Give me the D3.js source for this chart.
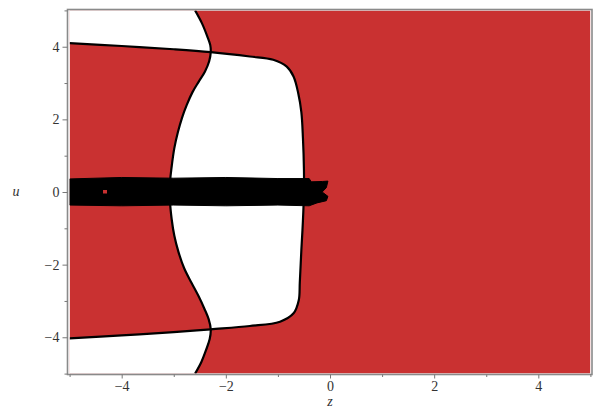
<!DOCTYPE html>
<html>
<head>
<meta charset="utf-8">
<script src="https://cdn.jsdelivr.net/npm/d3@7"></script>
<style>
  html, body { margin: 0; padding: 0; background: #fff; }
  svg { display: block; }
  .tick text { font-family: "Liberation Serif", "DejaVu Serif", serif; font-size: 14px; fill: #333; }
</style>
</head>
<body>
<svg id="chart" width="601" height="410"></svg>
<script>
// Boundary curve that winds top to bottom (z, u)
const waveZ = [-2.59, -2.46, -2.36, -2.30, -2.29, -2.32, -2.40, -2.52, -2.64, -2.75, -2.84, -2.92, -2.99, -3.04, -3.07, -3.07, -3.04, -2.99, -2.91, -2.80, -2.66, -2.52, -2.41, -2.33, -2.29, -2.31, -2.38, -2.47, -2.59];
const waveU = [5.00, 4.65, 4.30, 4.05, 3.85, 3.60, 3.32, 3.04, 2.75, 2.40, 2.05, 1.65, 1.20, 0.70, 0.30, -0.30, -0.75, -1.20, -1.65, -2.10, -2.50, -2.88, -3.22, -3.50, -3.78, -4.05, -4.35, -4.68, -5.00];

// C-shaped boundary curve, from the left edge round to the left edge (z, u)
const loopZ = [-5.00, -4.00, -3.00, -2.29, -1.54, -1.09, -0.83, -0.70, -0.61, -0.55, -0.52, -0.50, -0.50, -0.52, -0.55, -0.58, -0.60, -0.70, -0.96, -1.54, -2.29, -3.00, -4.00, -5.00];
const loopU = [4.10, 4.02, 3.93, 3.85, 3.73, 3.64, 3.45, 3.18, 2.72, 2.20, 1.50, 0.60, 0.00, -0.80, -1.60, -2.50, -2.98, -3.34, -3.57, -3.69, -3.78, -3.86, -3.95, -4.03];

// Dense black band of solutions along u = 0 (outline, z, u)
const bandZ = [-5.00, -4.00, -3.00, -2.00, -1.00, -0.40, -0.36, -0.14, -0.04, -0.07, -0.15, -0.04, -0.07, -0.25, -0.40, -1.00, -2.00, -3.00, -4.00, -5.00];
const bandU = [0.36, 0.40, 0.38, 0.40, 0.37, 0.37, 0.28, 0.29, 0.30, 0.12, 0.00, -0.12, -0.24, -0.30, -0.38, -0.36, -0.38, -0.36, -0.38, -0.36];

// Small gap inside the band
const gapZ = [-4.32];
const gapU = [0.0];

// Axis ticks
const majorTicks = [-4, -2, 0, 2, 4];
const minorTicks = [-5, -3, -1, 1, 3, 5];
const xLabel = "z";
const yLabel = "u";

const svg = d3.select("#chart");
const x = d3.scaleLinear().domain([-5, 5]).range([69.6, 590.4]);
const y = d3.scaleLinear().domain([-5, 5]).range([373.6, 10.4]);

const RED = "#c93131";
const pts = (zs, us) => zs.map((z, i) => [x(z), y(us[i])]);

svg.append("defs").append("clipPath").attr("id", "plotClip")
  .append("rect")
  .attr("x", x(-5)).attr("y", y(5))
  .attr("width", x(5) - x(-5)).attr("height", y(-5) - y(5));

const plot = svg.append("g").attr("clip-path", "url(#plotClip)");

// Background region
plot.append("rect")
  .attr("x", x(-5)).attr("y", y(5))
  .attr("width", x(5) - x(-5)).attr("height", y(-5) - y(5))
  .attr("fill", RED);

const smooth = d3.line().curve(d3.curveCatmullRom.alpha(0.5));

// White region: left of the winding curve XOR inside the C-shaped curve
const wavePts = pts(waveZ, waveU);
const loopPts = pts(loopZ, loopU);
const leftPoly = smooth(wavePts) +
  `L${x(-5.5)},${y(-5.5)}L${x(-5.5)},${y(5.5)}Z`;
const loopPoly = smooth(loopPts) + "Z";
plot.append("path")
  .attr("d", leftPoly + loopPoly)
  .attr("fill", "#fff")
  .attr("fill-rule", "evenodd");

// Boundary curves
plot.append("path").attr("d", smooth(wavePts))
  .attr("fill", "none").attr("stroke", "#000").attr("stroke-width", 2.2);
plot.append("path").attr("d", smooth(loopPts))
  .attr("fill", "none").attr("stroke", "#000").attr("stroke-width", 2.2);

// Band
plot.append("path")
  .attr("d", d3.line()(pts(bandZ, bandU)) + "Z")
  .attr("fill", "#000").attr("stroke", "#000").attr("stroke-width", 1)
  .attr("stroke-linejoin", "round");

plot.selectAll("rect.gap").data(gapZ).join("rect")
  .attr("class", "gap")
  .attr("x", d => x(d) - 2).attr("y", (d, i) => y(gapU[i]) - 2)
  .attr("width", 4).attr("height", 3.5)
  .attr("fill", RED);

// Frame
svg.append("rect")
  .attr("x", 67.5).attr("y", 9.5)
  .attr("width", 592 - 67.5).attr("height", 374.5 - 9.5)
  .attr("fill", "none").attr("stroke", "#8a8a8a").attr("stroke-width", 1.6);

const fmt = d => (d < 0 ? "\u2212" + Math.abs(d) : String(d));

// Bottom axis
const xAxisG = svg.append("g").attr("transform", "translate(0,374.5)");
xAxisG.call(d3.axisBottom(x).tickValues(majorTicks).tickSize(4).tickPadding(3).tickFormat(fmt));
xAxisG.append("g").call(d3.axisBottom(x).tickValues(minorTicks).tickSize(2.5).tickFormat(""));
xAxisG.selectAll(".domain").remove();
xAxisG.selectAll("line").attr("stroke", "#777");

// Left axis
const yAxisG = svg.append("g").attr("transform", "translate(67.5,0)");
yAxisG.call(d3.axisLeft(y).tickValues(majorTicks).tickSize(5).tickPadding(3).tickFormat(fmt));
yAxisG.append("g").call(d3.axisLeft(y).tickValues(minorTicks).tickSize(3).tickFormat(""));
yAxisG.selectAll(".domain").remove();
yAxisG.selectAll("line").attr("stroke", "#777");

// Axis titles
svg.append("text")
  .attr("x", x(0)).attr("y", 406)
  .attr("text-anchor", "middle")
  .style("font-family", "'Liberation Serif', serif").style("font-style", "italic")
  .style("font-size", "14px").style("fill", "#333")
  .text(xLabel);
svg.append("text")
  .attr("x", 16).attr("y", y(0) + 4)
  .attr("text-anchor", "middle")
  .style("font-family", "'Liberation Serif', serif").style("font-style", "italic")
  .style("font-size", "14px").style("fill", "#333")
  .text(yLabel);
</script>
</body>
</html>
